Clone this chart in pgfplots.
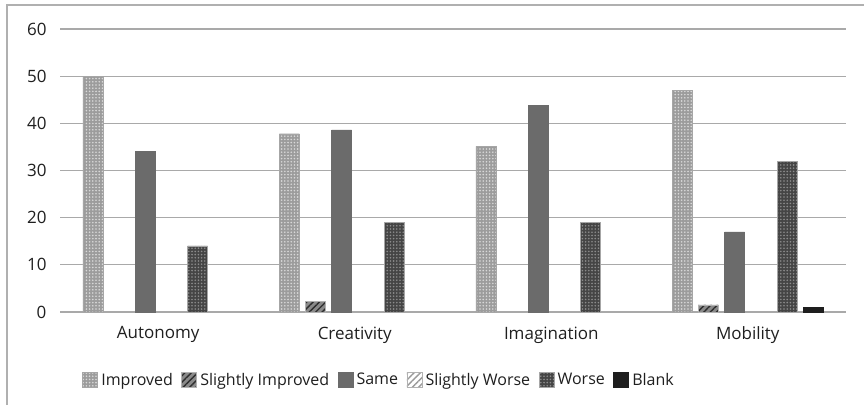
\documentclass[border=0pt]{standalone}
\usepackage{fontspec}
\setmainfont{Open Sans}
\usepackage{pgfplots}
\pgfplotsset{compat=1.18}
\usetikzlibrary{patterns.meta}

\definecolor{gridgray}{HTML}{A9A9A9}
\definecolor{framegray}{HTML}{B0B0B0}
\definecolor{impfill}{HTML}{9C9C9C}
\definecolor{impdot}{HTML}{D8D8D8}
\definecolor{sifill}{HTML}{8A8A8A}
\definecolor{siline}{HTML}{2E2E2E}
\definecolor{samefill}{HTML}{6B6B6B}
\definecolor{swline}{HTML}{9A9A9A}
\definecolor{worsefill}{HTML}{454545}
\definecolor{worsedot}{HTML}{8C8C8C}
\definecolor{blankfill}{HTML}{1E1E1E}

\begin{document}
\begin{tikzpicture}
\useasboundingbox (0,0) rectangle (864pt,405pt);
% outer chart frame (top and left edges)
\draw[framegray, line width=1.3pt] (7pt,0pt) -- (7pt,400pt) -- (864pt,400pt);
\begin{axis}[
  at={(60pt,93pt)}, anchor=south west,
  scale only axis, width=786pt, height=283pt,
  ybar=6.2pt, bar width=20pt,
  xmin=-0.5, xmax=3.5, ymin=0, ymax=60,
  xtick={0,1,2,3},
  xticklabels={Autonomy, Creativity, Imagination, Mobility},
  ytick={0,10,20,30,40,50,60},
  major tick length=0pt,
  axis line style={draw=none},
  ymajorgrids, grid style={gridgray, line width=1.3pt},
  tick label style={font=\fontsize{17}{20}\selectfont, text=black!88},
  /pgf/number format/assume math mode=true,
  y tick label style={xshift=-10pt},
  x tick label style={yshift=-11pt},
  legend columns=6,
  legend style={at={(0.407,-0.240)}, anchor=center, draw=none,
    font=\fontsize{16}{19}\selectfont, text=black!88,
    nodes={inner xsep=3.5pt},
    /tikz/every even column/.append style={column sep=5pt}},
  legend image code/.code={\draw[#1] (0pt,-7.5pt) rectangle (15pt,7.5pt);},
]
% Improved
\addplot[draw=gray!70, line width=0.4pt, fill=impfill,
  postaction={pattern={Dots[distance=3.2pt, radius=0.9pt]}, pattern color=impdot}]
  coordinates {(0,50) (1,37.8) (2,35.1) (3,47)};
% Slightly Improved
\addplot[draw=gray!60, line width=0.4pt, fill=sifill,
  postaction={pattern={Lines[angle=45, distance=4.5pt, line width=1.4pt]}, pattern color=siline}]
  coordinates {(1,2.2) (3,1.5)};
% Same
\addplot[draw=samefill, fill=samefill] coordinates {(0,34) (1,38.6) (2,43.8) (3,17)};
% Slightly Worse
\addplot[draw=gray!60, line width=0.4pt, fill=white,
  postaction={pattern={Lines[angle=45, distance=4.5pt, line width=1.4pt]}, pattern color=swline}]
  coordinates {(5,0)};
% Worse
\addplot[draw=gray!70, line width=0.4pt, fill=worsefill,
  postaction={pattern={Dots[distance=3.2pt, radius=0.9pt]}, pattern color=worsedot}]
  coordinates {(0,14) (1,19) (2,19) (3,32)};
% Blank
\addplot[draw=blankfill, fill=blankfill] coordinates {(3,1)};
\legend{Improved, Slightly Improved, Same, Slightly Worse, Worse, Blank}
\end{axis}
\end{tikzpicture}
\end{document}
